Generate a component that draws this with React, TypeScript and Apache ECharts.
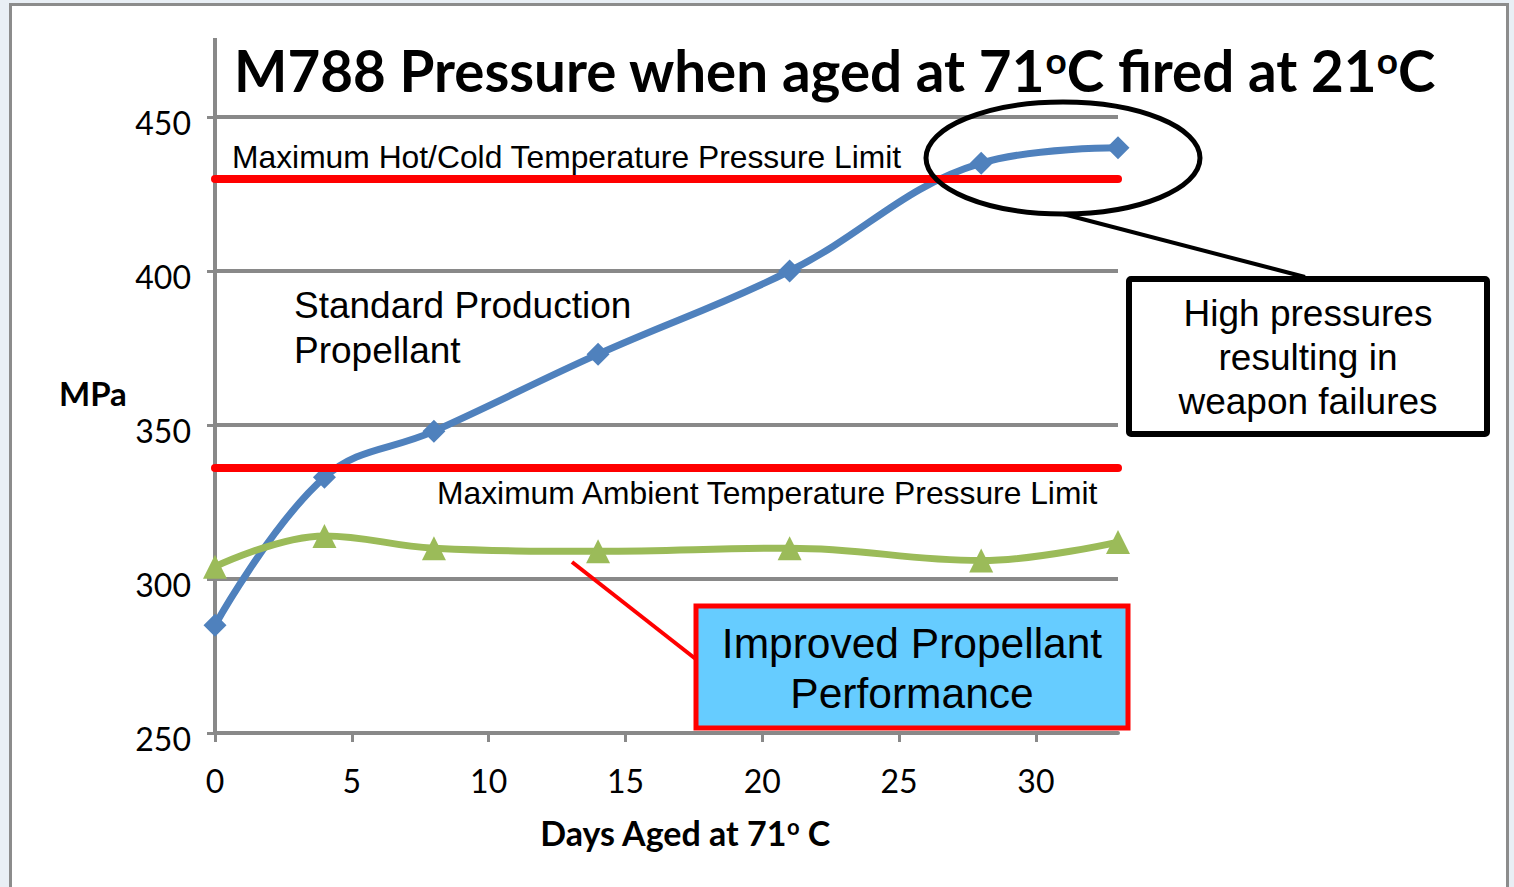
import React, { useEffect, useRef } from "react";
import * as echarts from "echarts";

const days = [0, 4, 8, 14, 21, 28, 33];
const standardPressure = [285, 333, 348, 373, 400, 435, 440];
const improvedPressure = [304, 314, 310, 309, 310, 306, 312];
const limitValues = [430, 336];
const xTickValues = [0, 5, 10, 15, 20, 25, 30];
const yMin = 250;
const yMax = 450;
const yStep = 50;
const xMax = 33;

const GRAY = "#898989";
const CAL = "Lato, 'Open Sans', sans-serif";
const ARIAL = "'Liberation Sans', Arial, sans-serif";

export default function App() {
  const ref = useRef<HTMLDivElement>(null);
  useEffect(() => {
    if (!ref.current) return;
    const chart = echarts.init(ref.current, null, { renderer: "svg" });
    const option: any = {
      animation: false,
      backgroundColor: "transparent",
      title: {
        text: "M788 Pressure when aged at 71{sup|o}C fired at 21{sup|o}C",
        left: 229,
        top: 36,
        textStyle: {
          fontFamily: CAL,
          fontWeight: "bold",
          fontSize: 56.5,
          color: "#000",
          rich: {
            sup: { fontFamily: CAL, fontWeight: "bold", fontSize: 37, verticalAlign: "top", color: "#000" },
          },
        },
      },
      grid: { left: 215, right: 396, top: 117, bottom: 154 },
      xAxis: {
        type: "value",
        min: 0,
        max: xMax,
        axisLine: { show: true, lineStyle: { color: GRAY, width: 4 } },
        axisTick: { show: true, customValues: xTickValues, length: 9, lineStyle: { color: GRAY, width: 3 } },
        axisLabel: { customValues: xTickValues, fontFamily: CAL, fontSize: 32, color: "#000", margin: 31 },
        splitLine: { show: false },
      },
      yAxis: {
        type: "value",
        min: yMin,
        max: yMax,
        interval: yStep,
        axisLine: { show: true, lineStyle: { color: GRAY, width: 4 } },
        axisTick: { show: true, length: 8, lineStyle: { color: GRAY, width: 3 } },
        axisLabel: { fontFamily: CAL, fontSize: 32, color: "#000", margin: 24, verticalAlign: "top", lineHeight: 10 },
        splitLine: { show: true, lineStyle: { color: GRAY, width: 4 } },
      },
      series: [
        {
          name: "limits",
          type: "line",
          data: [],
          z: 1,
          markLine: {
            silent: true,
            symbol: "none",
            label: { show: false },
            lineStyle: { color: "#ff0000", width: 8, type: "solid", cap: "round" },
            data: limitValues.map((v) => ({ yAxis: v })),
          },
        },
        {
          name: "Standard Production Propellant",
          type: "line",
          smooth: 0.4,
          z: 3,
          data: days.map((d, i) => [d, standardPressure[i]]),
          symbol: "diamond",
          symbolSize: 23,
          itemStyle: { color: "#4f81bd" },
          lineStyle: { color: "#4f81bd", width: 7 },
        },
        {
          name: "Improved Propellant",
          type: "line",
          smooth: 0.4,
          z: 3,
          data: days.map((d, i) => [d, improvedPressure[i]]),
          symbol: "triangle",
          symbolSize: 24,
          itemStyle: { color: "#9bbb59" },
          lineStyle: { color: "#9bbb59", width: 7 },
        },
      ],
      graphic: [
        { type: "line", z: 1, shape: { x1: 215, y1: 38, x2: 215, y2: 117 }, style: { stroke: GRAY, lineWidth: 4 } },
        {
          type: "text", x: 232, y: 157, z: 5,
          style: { text: "Maximum Hot/Cold Temperature Pressure Limit", fontFamily: ARIAL, fontSize: 31.8, fill: "#000", verticalAlign: "middle", align: "left" },
        },
        {
          type: "text", x: 437, y: 493, z: 5,
          style: { text: "Maximum Ambient Temperature Pressure Limit", fontFamily: ARIAL, fontSize: 31.8, fill: "#000", verticalAlign: "middle", align: "left" },
        },
        {
          type: "text", x: 294, y: 328, z: 5,
          style: { text: "Standard Production\nPropellant", fontFamily: ARIAL, fontSize: 37, lineHeight: 45, fill: "#000", verticalAlign: "middle", align: "left" },
        },
        {
          type: "text", x: 59, y: 393, z: 5,
          style: { text: "MPa", fontFamily: CAL, fontWeight: "bold", fontSize: 33, fill: "#000", verticalAlign: "middle", align: "left" },
        },
        {
          type: "text", x: 685, y: 832, z: 5,
          style: {
            text: "Days Aged at 71{sup|o} C", fontFamily: CAL, fontWeight: "bold", fontSize: 34, fill: "#000", verticalAlign: "middle", align: "center",
            rich: { sup: { fontFamily: CAL, fontWeight: "bold", fontSize: 22, verticalAlign: "top", fill: "#000" } },
          },
        },
        { type: "ellipse", z: 10, shape: { cx: 1063, cy: 158, rx: 137, ry: 56 }, style: { fill: "none", stroke: "#000", lineWidth: 5 } },
        { type: "line", z: 10, shape: { x1: 1063, y1: 214, x2: 1305, y2: 277 }, style: { stroke: "#000", lineWidth: 4 } },
        { type: "rect", z: 10, shape: { x: 1129, y: 279, width: 358, height: 155, r: 2 }, style: { fill: "#fff", stroke: "#000", lineWidth: 6 } },
        {
          type: "text", x: 1308, y: 357, z: 11,
          style: { text: "High pressures\nresulting in\nweapon failures", fontFamily: ARIAL, fontSize: 37, lineHeight: 44, fill: "#000", verticalAlign: "middle", align: "center" },
        },
        { type: "line", z: 10, shape: { x1: 572, y1: 562, x2: 697, y2: 660 }, style: { stroke: "#ff0000", lineWidth: 4 } },
        { type: "rect", z: 10, shape: { x: 696, y: 606, width: 432, height: 122 }, style: { fill: "#66ccff", stroke: "#ff0000", lineWidth: 5 } },
        {
          type: "text", x: 912, y: 668, z: 11,
          style: { text: "Improved Propellant\nPerformance", fontFamily: ARIAL, fontSize: 42.5, lineHeight: 50, fill: "#000", verticalAlign: "middle", align: "center" },
        },
      ],
    };
    chart.setOption(option);
    return () => chart.dispose();
  }, []);

  return (
    <div style={{ position: "absolute", left: 0, top: 0, width: 1514, height: 887, background: "#e9eff5", overflow: "hidden" }}>
      <div style={{ position: "absolute", left: 9, top: 3, width: 1500, height: 900, background: "#fff", border: "3px solid #8c8c8c", boxSizing: "border-box" }} />
      <div ref={ref} style={{ position: "absolute", left: 0, top: 0, width: 1514, height: 887 }} />
    </div>
  );
}
